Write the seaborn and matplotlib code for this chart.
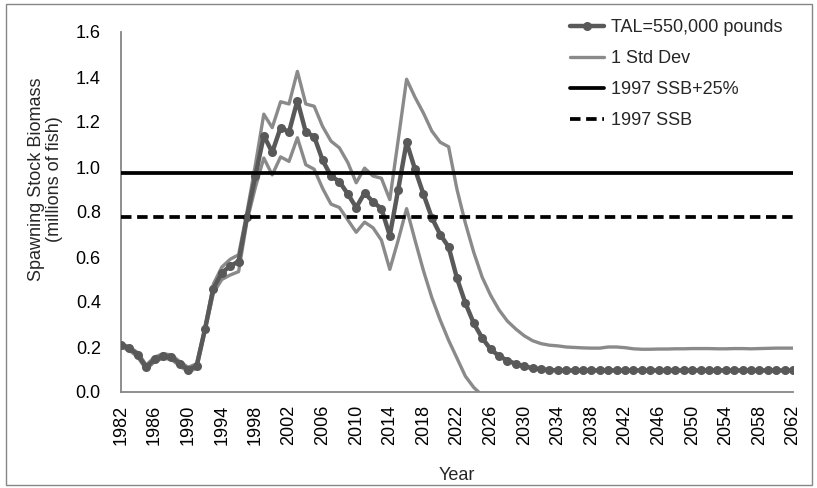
import numpy as np
import pandas as pd
import matplotlib
matplotlib.use("Agg")
import matplotlib.pyplot as plt
from matplotlib.patches import Rectangle
import seaborn as sns

# ---------------- data ----------------
years = list(range(1982, 2063))

tal_550k = [0.21, 0.195, 0.165, 0.11, 0.145, 0.16, 0.155, 0.125, 0.10, 0.115,
            0.28, 0.46, 0.53, 0.56, 0.58, 0.78, 0.96, 1.14, 1.065, 1.175,
            1.155, 1.295, 1.155, 1.135, 1.03, 0.96, 0.935, 0.88, 0.82, 0.885,
            0.845, 0.815, 0.695, 0.90, 1.11, 0.99, 0.88, 0.775, 0.70, 0.645,
            0.505, 0.395, 0.305, 0.24, 0.19, 0.16, 0.14, 0.125, 0.114, 0.106,
            0.101, 0.098, 0.096, 0.096, 0.096, 0.096, 0.096, 0.096, 0.096, 0.096,
            0.096, 0.096, 0.096, 0.096, 0.096, 0.096, 0.096, 0.096, 0.096, 0.096,
            0.096, 0.096, 0.096, 0.096, 0.096, 0.096, 0.096, 0.096, 0.096, 0.096,
            0.096]

upper_sd = [0.215, 0.20, 0.175, 0.12, 0.155, 0.17, 0.165, 0.135, 0.11, 0.125,
            0.285, 0.48, 0.555, 0.59, 0.61, 0.80, 1.01, 1.235, 1.175, 1.29,
            1.28, 1.425, 1.28, 1.27, 1.18, 1.115, 1.085, 1.02, 0.93, 0.995,
            0.96, 0.95, 0.855, 1.12, 1.39, 1.31, 1.24, 1.16, 1.11, 1.09,
            0.90, 0.75, 0.62, 0.51, 0.43, 0.365, 0.315, 0.28, 0.25, 0.228,
            0.215, 0.208, 0.205, 0.20, 0.198, 0.196, 0.195, 0.195, 0.20, 0.20,
            0.197, 0.192, 0.19, 0.19, 0.191, 0.191, 0.192, 0.192, 0.193, 0.193,
            0.193, 0.192, 0.192, 0.193, 0.193, 0.192, 0.193, 0.194, 0.195, 0.195,
            0.195]

lower_years = list(range(1982, 2026))
lower_sd = [0.20, 0.185, 0.155, 0.10, 0.135, 0.15, 0.145, 0.115, 0.09, 0.105,
            0.27, 0.44, 0.50, 0.52, 0.535, 0.76, 0.91, 1.04, 0.965, 1.045,
            1.025, 1.13, 1.01, 0.99, 0.905, 0.835, 0.82, 0.765, 0.71, 0.755,
            0.73, 0.675, 0.545, 0.675, 0.815, 0.675, 0.54, 0.42, 0.32, 0.23,
            0.15, 0.07, 0.02, -0.015]

ssb_1997 = 0.78
ssb_1997_plus25 = 0.975

x_ticks = list(range(1982, 2063, 4))
y_ticks = [0.0, 0.2, 0.4, 0.6, 0.8, 1.0, 1.2, 1.4, 1.6]

labels = ["TAL=550,000 pounds", "1 Std Dev", "1997 SSB+25%", "1997 SSB"]

# ---------------- style ----------------
sns.set_theme(style="white")
plt.rcParams["font.family"] = ["Liberation Sans", "DejaVu Sans"]

W, H = 817, 488
fig = plt.figure(figsize=(W / 100, H / 100), dpi=100)
L, R, T, B = 121, 793, 32, 392
ax = fig.add_axes([L / W, 1 - B / H, (R - L) / W, (B - T) / H])

main_c = "#595959"
sd_c = "#8a8a8a"

df_up = pd.DataFrame({"Year": years, "v": upper_sd})
df_lo = pd.DataFrame({"Year": lower_years, "v": lower_sd})
df_main = pd.DataFrame({"Year": years, "v": tal_550k})

sns.lineplot(data=df_up, x="Year", y="v", ax=ax, color=sd_c, linewidth=2.4,
             zorder=2)
sns.lineplot(data=df_lo, x="Year", y="v", ax=ax, color=sd_c, linewidth=2.4,
             zorder=2)
sns.lineplot(data=df_main, x="Year", y="v", ax=ax, color=main_c, linewidth=3.2,
             marker="o", markersize=6.5, markeredgewidth=0, zorder=3)

ax.axhline(ssb_1997_plus25, color="black", linewidth=2.7, zorder=4)
ax.axhline(ssb_1997, color="black", linewidth=2.7, linestyle=(0, (2.8, 1.5)),
           zorder=4)

lines = ax.get_lines()
h_main = lines[2]
h_sd = lines[0]
h_p25 = lines[3]
h_ssb = lines[4]

ax.set_xlim(1982, 2062)
ax.set_ylim(0, 1.6)

ax.set_xticks(x_ticks)
ax.set_xticklabels([str(t) for t in x_ticks], rotation=90)
ax.set_xticks(years, minor=True)
ax.set_yticks(y_ticks)
ax.set_yticklabels([f"{t:.1f}" for t in y_ticks])

spine_c = "#868686"
for s in ["top", "right"]:
    ax.spines[s].set_visible(False)
for s in ["left", "bottom"]:
    ax.spines[s].set_color(spine_c)
    ax.spines[s].set_linewidth(1.3)

ax.tick_params(axis="both", which="both", direction="out", color=spine_c,
               width=1.2, labelsize=13, labelcolor="black")
ax.tick_params(axis="x", which="both", length=3, pad=6.4)
ax.tick_params(axis="y", which="major", length=4, pad=10.5)
ax.grid(False)

ax.set_xlabel("Year", fontsize=13)
ax.xaxis.set_label_coords(0.5, -0.208)
ax.set_ylabel("Spawning Stock Biomass\n(millions of fish)", fontsize=13,
              linespacing=1.1)
ax.yaxis.set_label_coords(-0.086, 0.59)

if ax.get_legend() is not None:
    ax.get_legend().remove()
fig.legend([h_main, h_sd, h_p25, h_ssb], labels, loc="upper left",
           bbox_to_anchor=(561 / W, 1 - 10 / H), frameon=False, fontsize=13,
           borderpad=0, handlelength=1.9, handletextpad=0.35,
           labelspacing=0.78, numpoints=1)

fig.add_artist(Rectangle((6 / W, 3 / H), 806 / W, 481 / H,
                         transform=fig.transFigure, fill=False,
                         edgecolor=spine_c, linewidth=1.0))

fig.savefig("out.png", dpi=100)
